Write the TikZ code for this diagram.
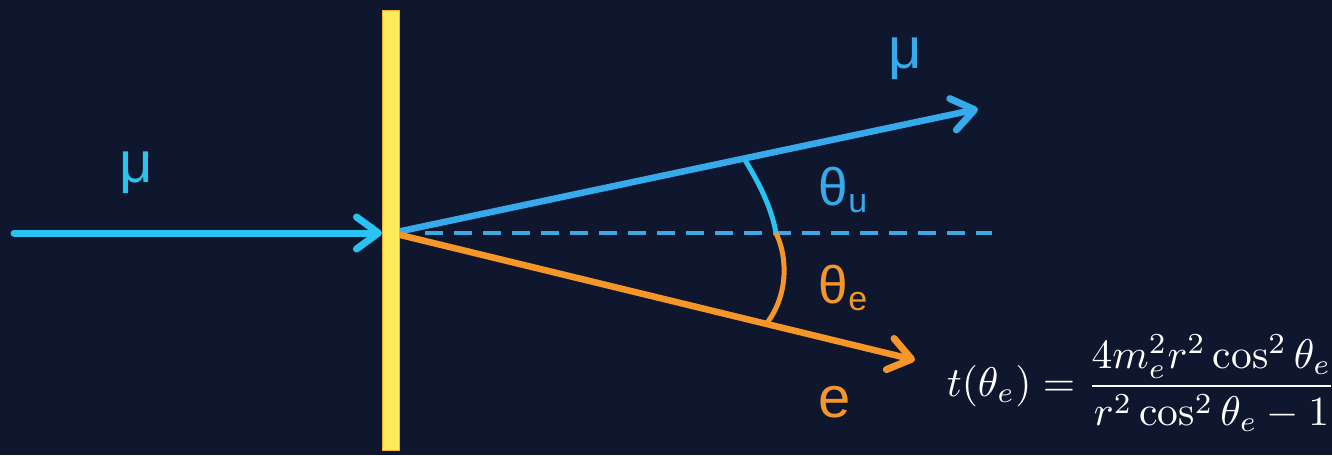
\documentclass[tikz,border=0pt]{standalone}
\usepackage{amsmath}
\usepackage{fontspec}
\setsansfont{Liberation Sans}
\usepackage{tikz}
\usetikzlibrary{arrows.meta}
\definecolor{bgcolor}{RGB}{15,23,47}
\definecolor{mucolor}{RGB}{40,195,240}
\definecolor{muoutcolor}{RGB}{55,170,235}
\definecolor{dashcolor}{RGB}{60,168,228}
\definecolor{ecolor}{RGB}{245,150,40}
\definecolor{targetcolor}{RGB}{253,235,90}

\begin{document}
\begin{tikzpicture}[x=1pt, y=-1pt,
  track/.style={line width=6.5pt, line cap=round,
    -{Straight Barb[length=22pt, width=32pt, line width=7pt, line join=round, line cap=round]}},
  lbl/.style={font=\sffamily\fontsize{58}{60}\selectfont, inner sep=0pt},
  anglbl/.style={font=\sffamily\fontsize{53}{60}\selectfont, inner sep=0pt}]
  % background
  \fill[bgcolor] (0,0) rectangle (1332,455);
  \useasboundingbox (0,0) rectangle (1332,455);
  % vertex and track ends
  \coordinate (hit) at (382,233);
  \coordinate (vtx) at (392,233);
  \coordinate (inStart) at (14,233);
  \coordinate (muEnd) at (978,109);
  \coordinate (eEnd) at (915,360);
  \coordinate (dashStart) at (425,233);
  \coordinate (dashEnd) at (992,233);
  \coordinate (muArc) at (745,160);
  \coordinate (midArc) at (776,233);
  \coordinate (eArc) at (767,323);
  % incoming muon
  \draw[track, mucolor, line width=7pt] (inStart) -- (hit);
  % beam axis
  \draw[dashcolor, line width=4pt, dash pattern=on 18pt off 11pt] (dashStart) -- (dashEnd);
  % outgoing muon and electron
  \draw[track, muoutcolor] (vtx) -- (muEnd);
  \draw[track, ecolor] (vtx) -- (eEnd);
  % angles
  \draw[mucolor, line width=5pt] (muArc) .. controls (757,180) and (771,205) .. (midArc);
  \draw[ecolor, line width=5pt] (midArc) .. controls (788,258) and (788,295) .. (eArc);
  % target
  \filldraw[fill=targetcolor, draw=ecolor!70!targetcolor, line width=1pt] (382,10) rectangle (399,450);
  % labels
  \node[lbl, mucolor] (muIn) at (136,173) {μ};
  \node[lbl, muoutcolor] (muOut) at (905,59) {μ};
  \node[lbl, ecolor] (eOut) at (835,402) {e};
  \node[anglbl, muoutcolor] (thetaMu) at (843,190)
    {θ\raisebox{-0.12em}{\fontsize{34}{40}\selectfont u}};
  \node[anglbl, ecolor] (thetaE) at (843,288)
    {θ\raisebox{-0.12em}{\fontsize{34}{40}\selectfont e}};
  % formula
  \node[white, scale=4.15, anchor=west, inner sep=0pt] (tForm) at (946,383)
    {$\displaystyle t(\theta_e)=\frac{4m_e^2r^2\cos^2\theta_e}{r^2\cos^2\theta_e-1}$};
\end{tikzpicture}
\end{document}
